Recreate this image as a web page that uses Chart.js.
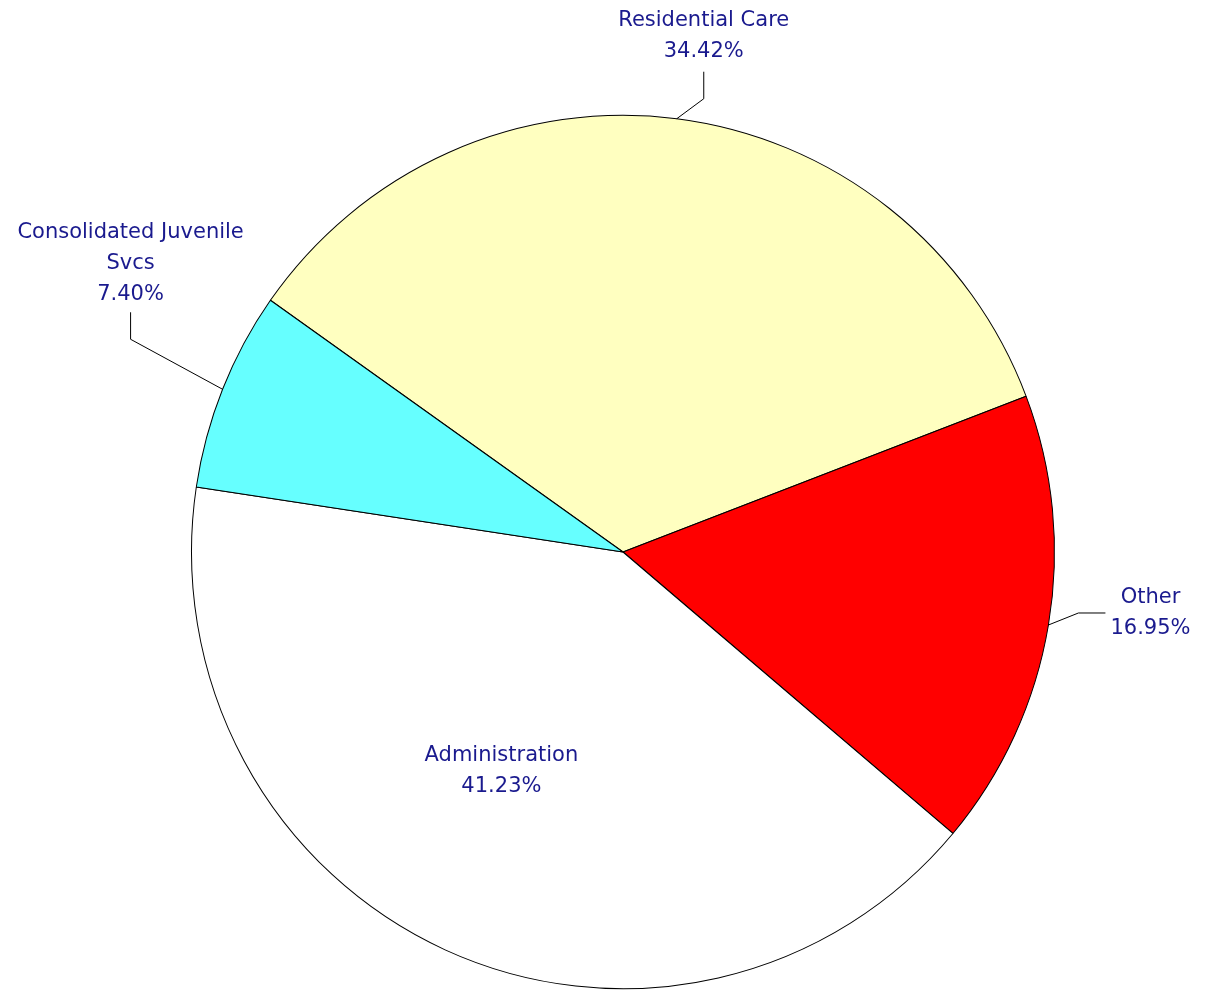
<!DOCTYPE html>
<html>
<head>
<meta charset="utf-8">
<script src="https://cdn.jsdelivr.net/npm/chart.js@4.4.0/dist/chart.umd.min.js"></script>
<style>
  html, body { margin: 0; padding: 0; background: #fff; }
  #wrap { width: 1212px; height: 990px; }
</style>
</head>
<body>
<div id="wrap"><canvas id="pie" width="1212" height="990"></canvas></div>
<script>
// slice order is clockwise, starting at the Residential Care / Consolidated edge
const categories = ["Residential Care", "Other", "Administration", "Consolidated Juvenile Svcs"];
const shares = [34.42, 16.95, 41.23, 7.40];
const sliceColors = ["#FFFFC0", "#FF0000", "#FFFFFF", "#66FFFF"];

const LABEL_COLOR = "#1a1a8e";
const LABEL_FONT = "21px 'DejaVu Sans'";
const LINE_H = 31;
const Y_STRETCH = 1.012; // the original pie is a touch taller than wide

// where each label sits relative to its slice (leader elbow offset etc.)
const labelLayout = [
  { kind: "up", elbow: [27, -20], stem: 27, gap: 20 },
  { kind: "right", elbow: [30, -12], stem: 27, gap: 5 },
  { kind: "inside", frac: 0.575, shift: 5 },
  { kind: "up", elbow: [-92, -50], stem: 27, gap: 18 },
];

function wrapText(ctx, text, maxW) {
  const words = text.split(" ");
  const lines = [];
  let cur = "";
  words.forEach((w) => {
    const test = cur ? cur + " " + w : w;
    if (cur && ctx.measureText(test).width > maxW) {
      lines.push(cur);
      cur = w;
    } else {
      cur = test;
    }
  });
  if (cur) lines.push(cur);
  return lines;
}

const stretchPlugin = {
  id: "stretch",
  beforeDatasetsDraw(chart) {
    const arc = chart.getDatasetMeta(0).data[0];
    const ctx = chart.ctx;
    ctx.save();
    ctx.translate(arc.x, arc.y);
    ctx.scale(1, Y_STRETCH);
    ctx.translate(-arc.x, -arc.y);
  },
  afterDatasetsDraw(chart) {
    chart.ctx.restore();
  },
};

const labelPlugin = {
  id: "pieLabels",
  afterDraw(chart) {
    const ctx = chart.ctx;
    const meta = chart.getDatasetMeta(0);
    ctx.save();
    ctx.font = LABEL_FONT;
    ctx.fillStyle = LABEL_COLOR;
    ctx.textAlign = "center";
    ctx.textBaseline = "middle";
    meta.data.forEach((arc, i) => {
      const lay = labelLayout[i];
      const mid = (arc.startAngle + arc.endAngle) / 2;
      const r = arc.outerRadius;
      const lines = wrapText(ctx, categories[i], 260);
      lines.push(shares[i].toFixed(2) + "%");

      if (lay.kind === "inside") {
        const a = mid + (lay.shift * Math.PI) / 180;
        const cx = arc.x + Math.cos(a) * r * lay.frac;
        const cy = arc.y + Math.sin(a) * r * lay.frac * Y_STRETCH;
        const top = cy - ((lines.length - 1) * LINE_H) / 2;
        lines.forEach((t, k) => ctx.fillText(t, cx, top + k * LINE_H));
        return;
      }

      const px = arc.x + Math.cos(mid) * r;
      const py = arc.y + Math.sin(mid) * r * Y_STRETCH;
      const ex = px + lay.elbow[0];
      const ey = py + lay.elbow[1];
      let sx = ex, sy = ey;
      if (lay.kind === "up") sy = ey - lay.stem;
      else sx = ex + lay.stem;

      ctx.beginPath();
      ctx.strokeStyle = "#000";
      ctx.lineWidth = 1;
      ctx.moveTo(px, py);
      ctx.lineTo(ex, ey);
      ctx.lineTo(sx, sy);
      ctx.stroke();

      if (lay.kind === "up") {
        const last = sy - lay.gap;
        lines.forEach((t, k) =>
          ctx.fillText(t, sx, last - (lines.length - 1 - k) * LINE_H)
        );
      } else {
        let w = 0;
        lines.forEach((t) => (w = Math.max(w, ctx.measureText(t).width)));
        const cx = sx + lay.gap + w / 2;
        const top = sy - ((lines.length - 1) * LINE_H) / 2;
        lines.forEach((t, k) => ctx.fillText(t, cx, top + k * LINE_H));
      }
    });
    ctx.restore();
  },
};

new Chart(document.getElementById("pie").getContext("2d"), {
  type: "pie",
  data: {
    labels: categories,
    datasets: [
      {
        data: shares,
        backgroundColor: sliceColors,
        borderColor: "#000",
        borderWidth: 1,
        hoverOffset: 0,
      },
    ],
  },
  options: {
    responsive: false,
    devicePixelRatio: 1,
    animation: false,
    rotation: -54.8,
    layout: {
      padding: { left: 191, right: 157, top: 120, bottom: 6 },
    },
    plugins: {
      legend: { display: false },
      tooltip: { enabled: false },
    },
  },
  plugins: [stretchPlugin, labelPlugin],
});
</script>
</body>
</html>
